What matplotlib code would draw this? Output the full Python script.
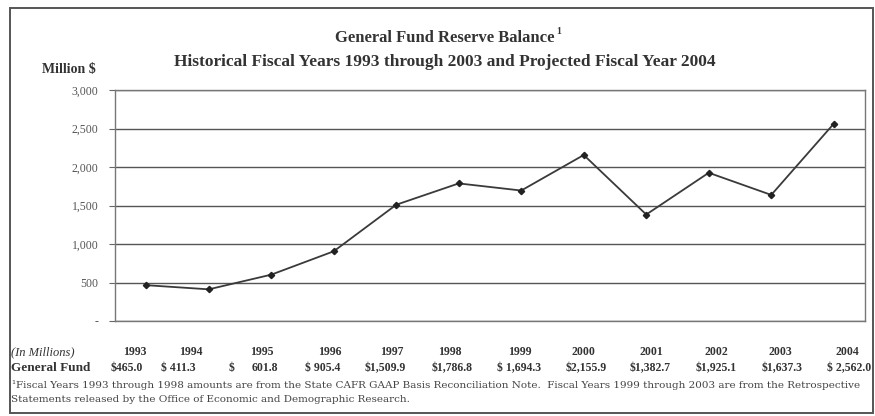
import matplotlib
matplotlib.use("Agg")
import matplotlib.pyplot as plt
from matplotlib.patches import Rectangle

# general fund reserve balance, million $
years = ["1993", "1994", "1995", "1996", "1997", "1998", "1999",
         "2000", "2001", "2002", "2003", "2004"]
balance = [465.0, 411.3, 601.8, 905.4, 1509.9, 1786.8, 1694.3,
           2155.9, 1382.7, 1925.1, 1637.3, 2562.0]
value_labels = ["$465.0", "$ 411.3", "$", "$ 905.4", "$1,509.9",
                "$1,786.8", "$ 1,694.3", "$2,155.9", "$1,382.7", "$1,925.1",
                "$1,637.3", "$ 2,562.0"]
yticks = [0, 500, 1000, 1500, 2000, 2500, 3000]
ytick_labels = ["-", "500", "1,000", "1,500", "2,000", "2,500", "3,000"]

# table column centres (figure pixels)
year_x = [135, 191, 262, 330, 392, 450, 520, 583, 651, 716, 780, 847]
value_x = [127, 178, 232, 323, 385, 452, 519, 586, 650, 716, 782, 849]

W, H = 875, 416
serif = ["Liberation Serif", "DejaVu Serif"]
plt.rcParams["font.family"] = serif
ink = "#333333"

fig = plt.figure(figsize=(W / 100, H / 100), dpi=100)
fig.patch.set_facecolor("white")

def fx(px):
    return px / W

def fy(py):
    return 1 - py / H

# outer frame
fig.patches.append(Rectangle((fx(10), fy(413)), fx(873) - fx(10), fy(8) - fy(413),
                             transform=fig.transFigure, fill=False,
                             edgecolor="#555555", lw=1.4))

ax = fig.add_axes([fx(115), fy(321), fx(865) - fx(115), fy(90) - fy(321)])
x = list(range(len(years)))
ax.plot(x, balance, color="#3a3a3a", lw=1.3, marker="D", ms=3.2,
        markerfacecolor="#222222", markeredgecolor="#222222")
ax.set_xlim(-0.5, len(years) - 0.5)
ax.set_ylim(0, 3000)
ax.set_xticks([])
ax.set_yticks(yticks)
ax.set_yticklabels(ytick_labels, fontsize=8.5, color="#555555")
ax.tick_params(axis="y", length=4, width=0.8, color="#666666", pad=8)
ax.grid(axis="y", color="#555555", lw=1.0)
ax.set_axisbelow(True)
for s in ax.spines.values():
    s.set_color("#777777")
    s.set_linewidth(1.0)

# titles
fig.text(fx(445), fy(38), "General Fund Reserve Balance",
         ha="center", va="center", fontsize=12, fontweight="bold", color=ink)
fig.text(fx(559), fy(32), "1", ha="center", va="center", fontsize=7,
         fontweight="bold", color=ink)
fig.text(fx(445), fy(62),
         "Historical Fiscal Years 1993 through 2003 and Projected Fiscal Year 2004",
         ha="center", va="center", fontsize=12.5, fontweight="bold", color=ink)
fig.text(fx(42), fy(70), "Million $", ha="left", va="center", fontsize=10,
         fontweight="bold", color=ink)

# data table under the chart
fig.text(fx(11), fy(352), "(In Millions)", ha="left", va="center", fontsize=9,
         style="italic", color=ink)
fig.text(fx(11), fy(368), "General Fund", ha="left", va="center", fontsize=9.5,
         fontweight="bold", color=ink)
for xp, yr in zip(year_x, years):
    fig.text(fx(xp), fy(352), yr, ha="center", va="center", fontsize=8.5,
             fontweight="bold", color=ink)
for xp, lab in zip(value_x, value_labels):
    fig.text(fx(xp), fy(368), lab, ha="center", va="center", fontsize=8.5,
             fontweight="bold", color=ink)
# 1995 amount sits apart from its dollar sign
fig.text(fx(265), fy(368), "601.8", ha="center", va="center", fontsize=8.5,
         fontweight="bold", color=ink)

# footnote
foot = dict(ha="left", va="center", fontsize=7.45, color="#444444",
            family=["DejaVu Serif"])
fig.text(fx(11), fy(385), "\u00b9", **foot)
fig.text(fx(16), fy(386),
         "Fiscal Years 1993 through 1998 amounts are from the State CAFR GAAP Basis "
         "Reconciliation Note.  Fiscal Years 1999 through 2003 are from the Retrospective",
         **foot)
fig.text(fx(11), fy(400),
         "Statements released by the Office of Economic and Demographic Research.",
         **foot)

fig.savefig("out.png", dpi=100, facecolor="white")
